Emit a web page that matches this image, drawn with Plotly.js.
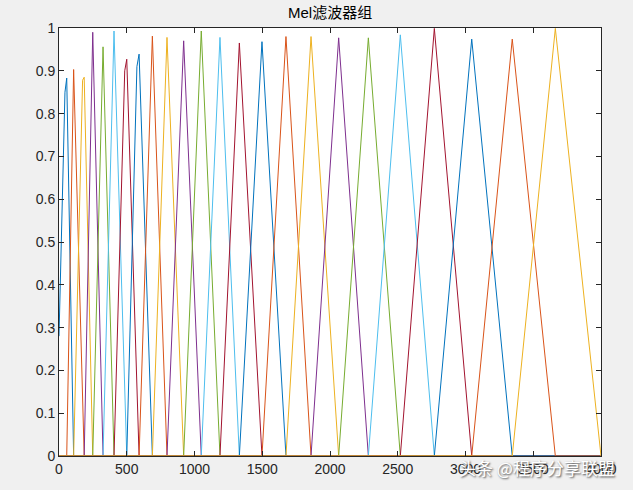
<!DOCTYPE html>
<html>
<head>
<meta charset="utf-8">
<script src="https://cdn.plot.ly/plotly-3.0.1.min.js"></script>
<style>html,body{margin:0;padding:0;background:#f0f0f0;}#chart{width:633px;height:490px;}</style>
</head>
<body>
<div id="chart"></div>
<script>
// Centre frequency (Hz) and peak gain of each of the 24 Mel filters
const peakHz   = [57, 108, 186, 249, 325, 406, 500, 591, 689, 797, 920, 1050, 1188, 1331, 1498, 1675, 1860, 2064, 2283, 2519, 2770, 3046, 3345, 3663];
const peakGain = [0.883, 0.903, 0.885, 0.990, 0.956, 0.993, 0.927, 0.939, 0.981, 0.978, 0.970, 0.993, 0.978, 0.965, 0.968, 0.980, 0.980, 0.977, 0.977, 0.984, 0.999, 0.974, 0.974, 0.999];
// Extra sample just before the peak (discrete FFT bin), null where none is visible
const shoulderHz   = [44, null, 174, null, null, null, 485, 575, null, null, null, null, null, null, null, null, null, null, null, null, null, null, null, null];
const shoulderGain = [0.85, null, 0.878, null, null, null, 0.90, 0.91, null, null, null, null, null, null, null, null, null, null, null, null, null, null, null, null];
const startGain = 0.28;   // value of the first filter at 0 Hz
const fMin = 0, fMax = 4000;
const xTicks = [0, 500, 1000, 1500, 2000, 2500, 3000, 3500, 4000];
const yTicks = [0, 0.1, 0.2, 0.3, 0.4, 0.5, 0.6, 0.7, 0.8, 0.9, 1];
const titleText = 'Mel滤波器组';
const watermark = '头条 @程序分享联盟';

const colors = ['#0072BD', '#D95319', '#EDB120', '#7E2F8E', '#77AC30', '#4DBEEE', '#A2142F'];

const traces = peakHz.map((p, i) => {
  const xs = [], ys = [];
  if (i === 0) {
    xs.push(fMin); ys.push(startGain);
  } else {
    xs.push(fMin, peakHz[i - 1]); ys.push(0, 0);
  }
  if (shoulderHz[i] !== null) { xs.push(shoulderHz[i]); ys.push(shoulderGain[i]); }
  xs.push(p); ys.push(peakGain[i]);
  if (i === peakHz.length - 1) {
    xs.push(fMax); ys.push(0);
  } else {
    xs.push(peakHz[i + 1], fMax); ys.push(0, 0);
  }
  return {
    x: xs, y: ys, type: 'scatter', mode: 'lines',
    line: {color: colors[i % colors.length], width: 1},
    hoverinfo: 'skip', showlegend: false
  };
});

const axisCommon = {
  showgrid: false, zeroline: false, showline: true, mirror: 'ticks',
  linecolor: '#262626', linewidth: 1, ticks: 'inside', ticklen: 5,
  tickcolor: '#262626', tickfont: {family: 'Liberation Sans, Arial, sans-serif', size: 14, color: '#262626'}
};

const layout = {
  width: 633, height: 490,
  paper_bgcolor: '#f0f0f0', plot_bgcolor: '#ffffff',
  margin: {l: 59, r: 32, t: 28, b: 34},
  title: {text: titleText, x: 0.5215, xanchor: 'center', y: 0.975, yanchor: 'middle',
          font: {family: 'Liberation Sans, Noto Sans CJK SC, sans-serif', size: 15, color: '#000000'}},
  xaxis: Object.assign({}, axisCommon, {range: [fMin, fMax], tickvals: xTicks, ticktext: xTicks.map(String)}),
  yaxis: Object.assign({}, axisCommon, {range: [0, 1], tickvals: yTicks, ticktext: yTicks.map(String)}),
  annotations: [{
    text: watermark, xref: 'paper', yref: 'paper', x: 1.03, y: -0.026,
    xanchor: 'right', yanchor: 'middle', showarrow: false,
    font: {family: 'Noto Sans CJK SC, sans-serif', size: 17, color: '#ffffff', shadow: '1px 1px 2px #444'}
  }]
};

Plotly.newPlot('chart', traces, layout, {staticPlot: true, displayModeBar: false});
</script>
</body>
</html>
